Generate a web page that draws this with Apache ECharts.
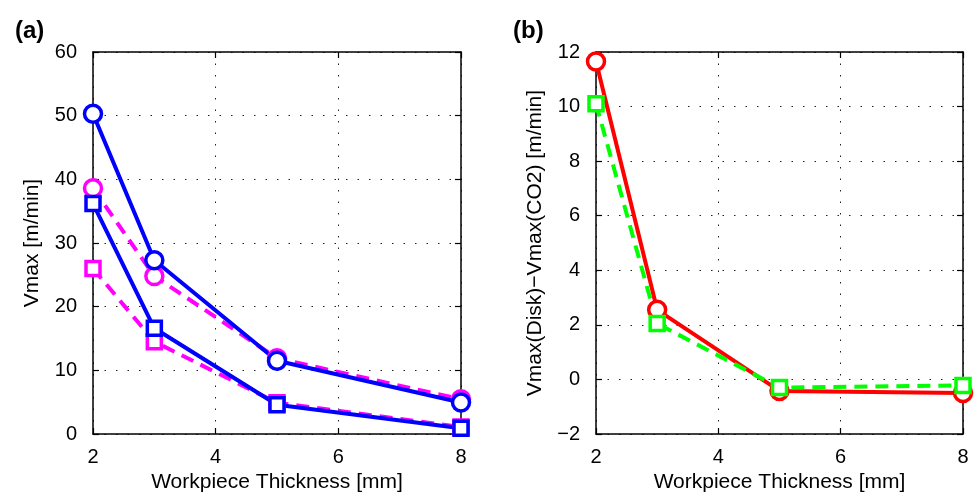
<!DOCTYPE html>
<html>
<head>
<meta charset="utf-8">
<script src="https://cdn.jsdelivr.net/npm/echarts@6/dist/echarts.min.js"></script>
<style>
  html, body { margin: 0; padding: 0; background: #fff; }
  #chart { width: 975px; height: 493px; }
</style>
</head>
<body>
<div id="chart"></div>
<script>
// workpiece thickness [mm]
const thickness = [2, 3, 5, 8];

// (a) Vmax [m/min]
const diskCircle = [50.3, 27.3, 11.5, 4.95];
const diskSquare = [36.2, 16.6, 4.6, 0.9];
const co2Circle = [38.6, 24.8, 11.9, 5.45];
const co2Square = [26.0, 14.5, 4.9, 1.1];

// (b) Vmax(Disk) - Vmax(CO2)
const diffCircle = [11.65, 2.55, -0.42, -0.5];
const diffSquare = [10.1, 2.05, -0.3, -0.22];

const FONT = 'Liberation Sans, Arial, Helvetica, sans-serif';
const pairs = ys => thickness.map((x, i) => [x, ys[i]]);
const minus = v => String(v).replace('-', '\u2212');

const dotted = { show: true, lineStyle: { color: '#222', width: 1, type: [1.5, 10] } };
const axLine = { show: true, onZero: false, lineStyle: { color: '#000', width: 1.5 } };
const tick = { show: true, inside: true, length: 6, lineStyle: { color: '#000', width: 1.2 } };
const lbl = m => ({ color: '#000', fontSize: 20, fontFamily: FONT, margin: m, formatter: minus });
const nameStyle = { color: '#000', fontSize: 21, fontFamily: FONT };

function xAxes(gi) {
  return [
    {
      type: 'value', gridIndex: gi, min: 2, max: 8, interval: 2,
      name: 'Workpiece Thickness [mm]', nameLocation: 'middle', nameGap: 37,
      nameTextStyle: nameStyle,
      axisLine: axLine, axisTick: tick, axisLabel: lbl(13), splitLine: dotted
    },
    {
      type: 'value', gridIndex: gi, position: 'top', min: 2, max: 8, interval: 2,
      axisLine: axLine, axisTick: tick, axisLabel: { show: false }, splitLine: { show: false }
    }
  ];
}

function yAxes(gi, min, max, step, name) {
  return [
    {
      type: 'value', gridIndex: gi, min: min, max: max, interval: step,
      name: name, nameLocation: 'middle', nameGap: 50,
      nameTextStyle: nameStyle,
      axisLine: axLine, axisTick: tick, axisLabel: lbl(16), splitLine: dotted
    },
    {
      type: 'value', gridIndex: gi, position: 'right', min: min, max: max, interval: step,
      axisLine: axLine, axisTick: tick, axisLabel: { show: false }, splitLine: { show: false }
    }
  ];
}

function line(data, color, symbol, dashed, xi, yi) {
  return {
    type: 'line', data: data, xAxisIndex: xi, yAxisIndex: yi,
    symbol: symbol, symbolSize: symbol === 'circle' ? 17 : 14,
    clip: false, animation: false,
    lineStyle: { color: color, width: 4, type: dashed ? [13, 8] : 'solid' },
    itemStyle: { color: '#fff', borderColor: color, borderWidth: 3.5 }
  };
}

const chart = echarts.init(document.getElementById('chart'));
chart.setOption({
  backgroundColor: '#fff',
  animation: false,
  title: [
    { text: '(a)', left: 10, top: 14, textStyle: { fontSize: 24, fontWeight: 'bold', fontFamily: FONT, color: '#000' } },
    { text: '(b)', left: 508, top: 14, textStyle: { fontSize: 24, fontWeight: 'bold', fontFamily: FONT, color: '#000' } }
  ],
  grid: [
    { left: 93, top: 52, width: 368, height: 382, outerBoundsMode: 'none' },
    { left: 596, top: 52, width: 367, height: 382, outerBoundsMode: 'none' }
  ],
  xAxis: [...xAxes(0), ...xAxes(1)],
  yAxis: [
    ...yAxes(0, 0, 60, 10, 'Vmax [m/min]'),
    ...yAxes(1, -2, 12, 2, 'Vmax(Disk)\u2212Vmax(CO2) [m/min]')
  ],
  series: [
    line(pairs(co2Circle), '#ff00ff', 'circle', true, 0, 0),
    line(pairs(co2Square), '#ff00ff', 'rect', true, 0, 0),
    line(pairs(diskCircle), '#0000ff', 'circle', false, 0, 0),
    line(pairs(diskSquare), '#0000ff', 'rect', false, 0, 0),
    line(pairs(diffCircle), '#ff0000', 'circle', false, 2, 2),
    line(pairs(diffSquare), '#00ff00', 'rect', true, 2, 2)
  ]
});
</script>
</body>
</html>
